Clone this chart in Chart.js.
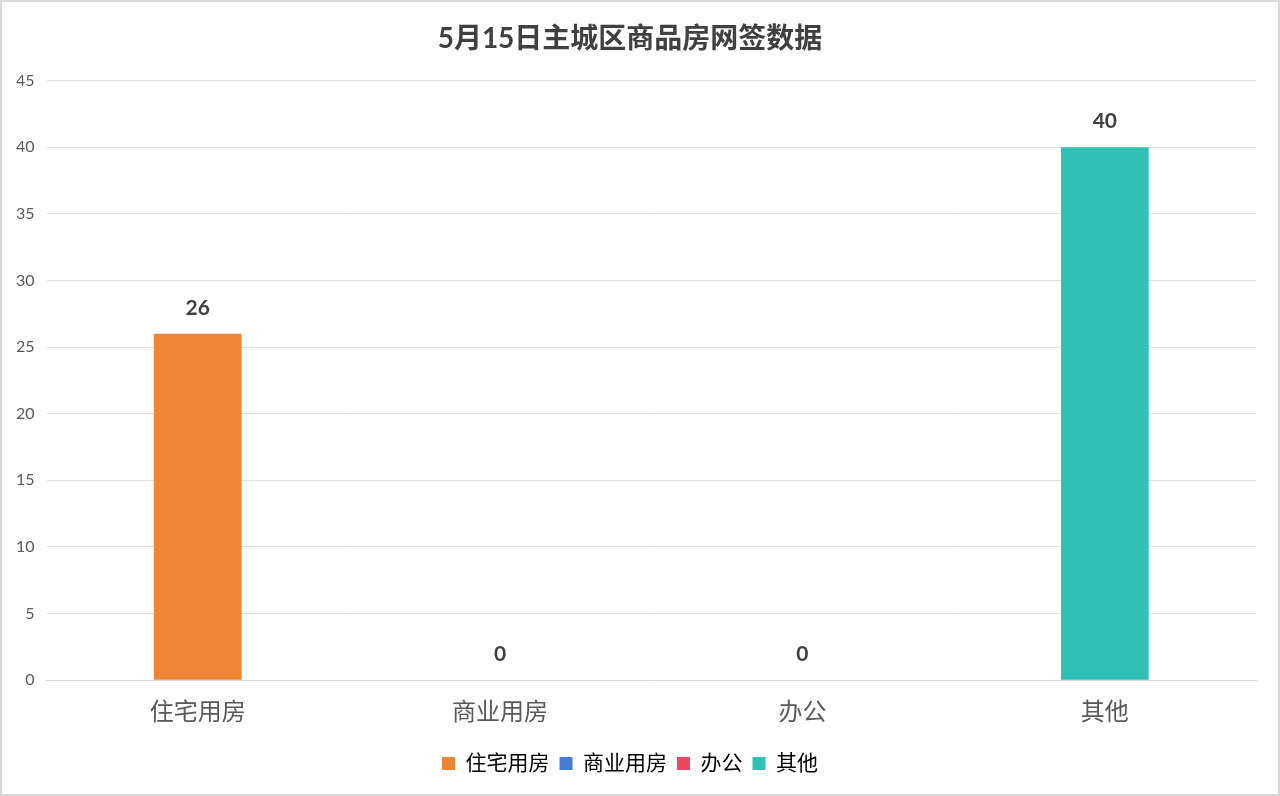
<!DOCTYPE html>
<html>
<head>
<meta charset="utf-8">
<script src="https://cdn.jsdelivr.net/npm/chart.js@4.4.1/dist/chart.umd.min.js"></script>
<style>
  html, body { margin: 0; padding: 0; background: #fff; }
  #wrap {
    width: 1280px; height: 796px; box-sizing: border-box;
    border: 2px solid #d9d9d9; background: #fff;
  }
  #chart { display: block; }
</style>
</head>
<body>
<div id="wrap"><canvas id="chart" width="1276" height="792"></canvas></div>
<script>
// ---- data ----
const categories = ["住宅用房", "商业用房", "办公", "其他"];
const values = [26, 0, 0, 40];
const barColors = ["#ED8534", "#4A7BD4", "#E8495F", "#2FC1B5"];
const yTicks = [0, 5, 10, 15, 20, 25, 30, 35, 40, 45];
const chartTitle = "5月15日主城区商品房网签数据";

const FONT = "Lato, 'Noto Sans CJK SC', sans-serif";

// value labels above each bar
const barLabels = {
    id: "barLabels",
    afterDatasetsDraw(chart) {
        const { ctx } = chart;
        const meta = chart.getDatasetMeta(0);
        ctx.save();
        ctx.font = "bold 21px " + FONT;
        ctx.fillStyle = "#404040";
        ctx.textAlign = "center";
        ctx.textBaseline = "bottom";
        meta.data.forEach((bar, i) => {
            ctx.fillText(String(values[i]), bar.x, bar.y - 15);
        });
        ctx.restore();
    },
};

new Chart(document.getElementById("chart"), {
    type: "bar",
    data: {
        labels: categories,
        datasets: [
            {
                data: values,
                backgroundColor: barColors,
                borderWidth: 0,
                categoryPercentage: 1,
                barPercentage: 0.29,
            },
        ],
    },
    options: {
        responsive: false,
        animation: false,
        devicePixelRatio: 1,
        layout: { padding: { left: 2, right: 22, top: 0, bottom: 10 } },
        plugins: {
            title: {
                display: true,
                text: chartTitle,
                color: "#404040",
                font: { family: FONT, size: 28, weight: "bold" },
                padding: { top: 20, bottom: 25 },
            },
            legend: {
                position: "bottom",
                labels: {
                    color: "#595959",
                    font: { family: FONT, size: 21 },
                    boxWidth: 13,
                    boxHeight: 13,
                    padding: 10,
                    generateLabels: () =>
                        categories.map((c, i) => ({
                            text: c,
                            fillStyle: barColors[i],
                            strokeStyle: barColors[i],
                            lineWidth: 0,
                            index: i,
                        })),
                },
            },
            tooltip: { enabled: false },
        },
        scales: {
            x: {
                grid: { display: false },
                border: { color: "#d9d9d9", width: 1 },
                afterFit: (scale) => {
                    scale.height += 6;
                },
                ticks: {
                    color: "#595959",
                    font: { family: FONT, size: 24 },
                    padding: 10,
                },
            },
            y: {
                min: 0,
                max: 45,
                afterBuildTicks: (axis) => {
                    axis.ticks = yTicks.map((v) => ({ value: v }));
                },
                grid: { color: "#e0e0e0", lineWidth: 1, drawTicks: false },
                border: { display: false },
                ticks: {
                    color: "#595959",
                    font: { family: FONT, size: 16 },
                    padding: 12,
                },
            },
        },
    },
    plugins: [barLabels],
});
</script>
</body>
</html>
